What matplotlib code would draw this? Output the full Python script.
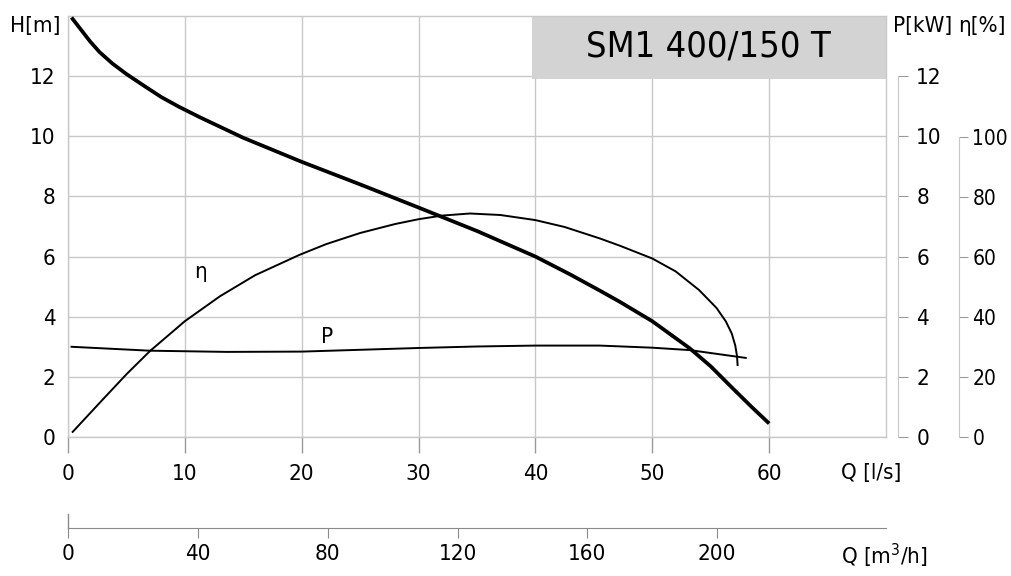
import matplotlib
matplotlib.use("Agg")
import matplotlib.pyplot as plt
from matplotlib import font_manager
from matplotlib.patches import Rectangle
from matplotlib.lines import Line2D

# ---------------- data ----------------
H_q = [0.3, 1.2, 1.9, 2.7, 3.8, 5.0, 6.5, 8.0, 9.5, 11.3, 15.0, 20.0, 25.0, 30.0, 35.0, 40.0, 43.0, 45.5, 47.2, 50.0, 53.2, 55.0, 56.8, 58.5, 60.0]
H_m = [13.95, 13.5, 13.15, 12.8, 12.42, 12.07, 11.68, 11.3, 10.98, 10.63, 9.95, 9.15, 8.4, 7.63, 6.85, 6.0, 5.4, 4.87, 4.5, 3.85, 2.95, 2.35, 1.65, 1.0, 0.45]

eta_q = [0.4, 3.0, 5.0, 7.0, 10.0, 13.0, 16.0, 19.8, 22.1, 25.0, 28.0, 30.0, 32.0, 34.4, 37.0, 40.0, 42.5, 45.5, 47.2, 50.0, 52.0, 54.0, 55.5, 56.3, 56.8, 57.1, 57.25, 57.3]
eta_pct = [1.7, 12.6, 20.9, 28.6, 38.6, 46.9, 53.9, 60.7, 64.3, 68.0, 71.0, 72.6, 73.8, 74.5, 74.0, 72.3, 70.0, 66.2, 63.8, 59.5, 55.2, 49.0, 43.0, 38.5, 34.5, 30.5, 27.0, 24.0]

P_q = [0.3, 7.0, 13.6, 20.0, 25.0, 30.0, 35.0, 40.0, 45.5, 50.0, 53.2, 58.0]
P_kw = [3.0, 2.87, 2.83, 2.84, 2.9, 2.96, 3.01, 3.04, 3.04, 2.97, 2.89, 2.63]

q_ls_ticks = [0, 10, 20, 30, 40, 50, 60]
q_m3h_ticks = [0, 40, 80, 120, 160, 200]
h_ticks = [0, 2, 4, 6, 8, 10, 12]
p_ticks = [0, 2, 4, 6, 8, 10, 12]
eta_ticks = [0, 20, 40, 60, 80, 100]
title = "SM1 400/150 T"

# ---------------- style ----------------
cond = None
for f in font_manager.fontManager.ttflist:
    if ('Narrow' in f.name or 'Condensed' in f.name or str(f.stretch) in ('condensed', 'semi-condensed')) \
            and 'Bold' not in f.name and f.weight in (400, 'normal', 'regular') and f.style == 'normal':
        cond = f
        break
if cond is not None:
    plt.rcParams['font.family'] = [cond.name, 'DejaVu Sans']
    plt.rcParams['font.stretch'] = cond.stretch
    FS, EFS, TFS = 16, 15, 26
else:
    plt.rcParams['font.family'] = ['Liberation Sans', 'DejaVu Sans']
    FS, EFS, TFS = 15, 14, 25

GRID = "#c8c8c8"
TICK = "#9a9a9a"

W, Hpx = 1012, 576
fig = plt.figure(figsize=(W / 100, Hpx / 100), dpi=100)
L, R, T, B = 68, 886, 16, 437
rect = [L / W, 1 - B / Hpx, (R - L) / W, (B - T) / Hpx]

ax = fig.add_axes(rect)
ax.set_xlim(0, 70)
ax.set_ylim(0, 14)
for s in ax.spines.values():
    s.set_color(GRID)
    s.set_linewidth(1)
ax.set_xticks(q_ls_ticks)
ax.set_yticks(h_ticks)
ax.grid(True, color=GRID, linewidth=1, zorder=0)
ax.set_axisbelow(True)
ax.tick_params(axis='x', direction='out', length=11.5, width=1, color=TICK, pad=8, labelsize=FS)
ax.tick_params(axis='y', which='both', length=0, pad=9, labelsize=FS)

# title box
ax.add_patch(Rectangle(((532 - L) / (R - L), (B - 79) / (B - T)), (R - 532) / (R - L), (79 - T) / (B - T),
                       transform=ax.transAxes, facecolor="#d3d3d3", edgecolor="none", zorder=2))
ax.text(((532 + 885) / 2 - L) / (R - L), (B - 47) / (B - T), title, transform=ax.transAxes,
        ha='center', va='center', fontsize=TFS, zorder=3)

ax.plot(H_q, H_m, color='black', linewidth=2.7, zorder=5, solid_capstyle='butt', solid_joinstyle='round')
ax.text(11.3, 5.5, "η", fontsize=FS, ha='center', va='center')
ax.text(22.2, 3.33, "P", fontsize=FS, ha='center', va='center')

# P axis
ax2 = ax.twinx()
ax2.set_ylim(0, 14)
ax2.patch.set_visible(False)
for k in ['top', 'left', 'bottom']:
    ax2.spines[k].set_visible(False)
ax2.spines['right'].set_position(('outward', 8.6))
ax2.spines['right'].set_bounds(0, 12)
ax2.spines['right'].set_color(GRID)
ax2.set_yticks(p_ticks)
ax2.tick_params(axis='y', direction='out', length=7.2, color=TICK, pad=6, labelsize=FS)
ax2.plot(P_q, P_kw, color='black', linewidth=1.4, zorder=5, solid_joinstyle='round')

# eta axis
ax3 = ax.twinx()
ax3.set_ylim(0, (B - T) / 3.0)
ax3.patch.set_visible(False)
for k in ['top', 'left', 'bottom']:
    ax3.spines[k].set_visible(False)
ax3.spines['right'].set_position(('outward', 52.6))
ax3.spines['right'].set_bounds(0, 100)
ax3.spines['right'].set_color(GRID)
ax3.set_yticks(eta_ticks)
ax3.tick_params(axis='y', direction='out', length=6.5, color=TICK, pad=3, labelsize=EFS)
ax3.plot(eta_q, eta_pct, color='black', linewidth=1.4, zorder=5, solid_joinstyle='round')

# m3/h axis
ax4 = fig.add_axes(rect)
ax4.patch.set_visible(False)
ax4.set_xlim(0, 70 * 3.6)
ax4.set_yticks([])
for k in ['top', 'left', 'right']:
    ax4.spines[k].set_visible(False)
ax4.spines['bottom'].set_position(('outward', 65.5))
ax4.spines['bottom'].set_color("#8a8a8a")
ax4.set_xticks(q_m3h_ticks)
ax4.tick_params(axis='x', direction='out', length=7.5, color="#8a8a8a", pad=4, labelsize=FS)
fig.add_artist(Line2D([L / W, L / W], [1 - 528 / Hpx, 1 - 514 / Hpx], transform=fig.transFigure,
                      color="#8a8a8a", linewidth=1))

# axis titles
fig.text(10 / W, 1 - 26 / Hpx, "H[m]", fontsize=FS, ha='left', va='center')
fig.text(893 / W, 1 - 26 / Hpx, "P[kW]", fontsize=FS, ha='left', va='center')
fig.text(958 / W, 1 - 26 / Hpx, "η[%]", fontsize=FS, ha='left', va='center')
fig.text(841 / W, 1 - 473 / Hpx, "Q [l/s]", fontsize=FS, ha='left', va='center')
fig.text(841 / W, 1 - 556 / Hpx, "Q [m$^3$/h]", fontsize=FS, ha='left', va='center')

fig.savefig("out.png", dpi=100)
